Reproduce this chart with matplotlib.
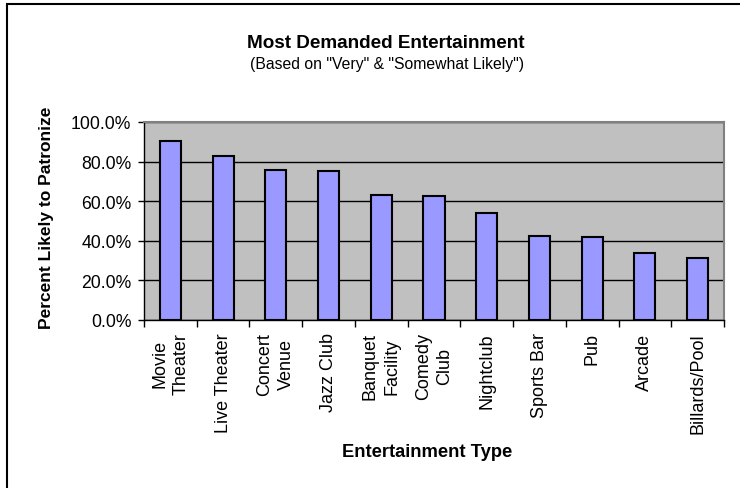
import matplotlib
matplotlib.use("Agg")
import matplotlib.pyplot as plt
from matplotlib.ticker import FuncFormatter, MultipleLocator
from matplotlib.patches import Rectangle

plt.rcParams['font.family'] = ['Liberation Sans', 'DejaVu Sans']

categories = ["Movie\nTheater", "Live Theater", "Concert\nVenue", "Jazz Club",
              "Banquet\nFacility", "Comedy\nClub", "Nightclub", "Sports Bar",
              "Pub", "Arcade", "Billards/Pool"]
values = [0.902, 0.826, 0.759, 0.751, 0.633, 0.624, 0.542, 0.424, 0.421, 0.340, 0.315]
title = "Most Demanded Entertainment"
subtitle = '(Based on "Very" & "Somewhat Likely")'
xlabel = "Entertainment Type"
ylabel = "Percent Likely to Patronize"

W, H = 740, 489
fig = plt.figure(figsize=(W / 100, H / 100), dpi=100)
fig.patch.set_facecolor("white")
fig.add_artist(Rectangle((7 / W, -0.1), 1.2, 1 - 5 / H + 0.1, transform=fig.transFigure,
                         fill=False, edgecolor="black", linewidth=1.5))

ax = fig.add_axes([144 / W, 1 - 321 / H, (724 - 144) / W, (321 - 123) / H])
ax.set_facecolor("#C0C0C0")
x = list(range(len(categories)))
ax.bar(x, values, width=0.4, color="#9999FF", edgecolor="black", linewidth=1.5, zorder=3)
ax.set_xlim(-0.5, len(categories) - 0.5)
ax.set_ylim(0, 1.0)
ax.yaxis.set_major_locator(MultipleLocator(0.2))
ax.yaxis.set_major_formatter(FuncFormatter(lambda v, p: f"{v * 100:.1f}%"))
ax.grid(axis="y", color="black", linewidth=1, zorder=1)
ax.set_axisbelow(True)

ax.set_xticks(x)
ax.set_xticklabels(categories, rotation=90, ha="center", va="top",
                   multialignment="center", fontsize=13, linespacing=1.35)
ax.tick_params(axis="x", length=0, pad=9)
ax.set_xticks([i + 0.5 for i in range(-1, len(categories))], minor=True)
ax.tick_params(axis="x", which="minor", length=5, width=1, color="black", direction="out")
ax.tick_params(axis="y", length=4, width=1, color="black", direction="out", labelsize=12.7, pad=5)

for s in ["left", "bottom"]:
    ax.spines[s].set_color("black")
    ax.spines[s].set_linewidth(1)
for s in ["top", "right"]:
    ax.spines[s].set_color("#808080")
    ax.spines[s].set_linewidth(1.5)

fig.text(386 / W, 1 - 43 / H, title, ha="center", va="center", fontsize=13.6, fontweight="bold")
fig.text(387 / W, 1 - 65 / H, subtitle, ha="center", va="center", fontsize=11.3)
fig.text(427 / W, 1 - 453 / H, xlabel, ha="center", va="center", fontsize=13.2, fontweight="bold")
fig.text(47 / W, 1 - 218 / H, ylabel, ha="center", va="center", rotation=90,
         fontsize=12.5, fontweight="bold")

fig.savefig("out.png", dpi=100)
